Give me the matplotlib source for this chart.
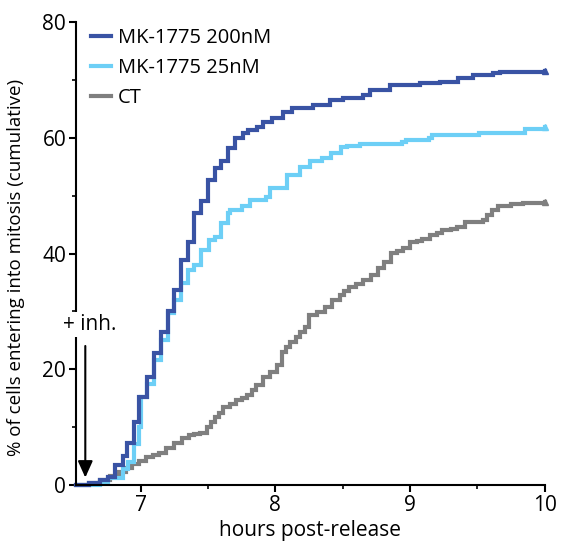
"""Cumulative mitotic entry after release, MK-1775 vs control"""

import numpy as np
import matplotlib

matplotlib.use("Agg")
import matplotlib.pyplot as plt
from matplotlib.ticker import MultipleLocator

plt.rcParams["font.family"] = ["Open Sans", "DejaVu Sans"]

# data (hours post-release, % cumulative)
hours_200 = [6.52, 6.62, 6.70, 6.76, 6.81, 6.87, 6.90, 6.95, 6.99, 7.05,
             7.10, 7.155, 7.20, 7.25, 7.30, 7.35, 7.40, 7.45, 7.50, 7.55,
             7.60, 7.646, 7.70, 7.757, 7.794, 7.861, 7.906, 7.973, 8.054,
             8.121, 8.277, 8.403, 8.50, 8.648, 8.70, 8.85, 9.07, 9.22,
             9.353, 9.465, 9.613, 9.665, 10.0]
pct_200 = [0, 0.4, 0.9, 1.4, 3.5, 5.0, 7.3, 10.9, 15.2, 18.7,
           22.8, 26.5, 30.0, 33.7, 38.9, 42.0, 47.0, 49.0, 52.7, 54.7,
           56.0, 58.2, 60.0, 60.8, 61.3, 61.8, 62.7, 63.4, 64.4,
           65.1, 65.6, 66.5, 66.8, 67.4, 68.2, 69.1, 69.4, 69.6,
           70.3, 70.8, 71.2, 71.3, 71.5]

hours_25 = [6.53, 6.70, 6.76, 6.87, 6.91, 6.95, 6.99, 7.00, 7.05, 7.10,
            7.155, 7.20, 7.25, 7.30, 7.35, 7.40, 7.45, 7.51, 7.55, 7.60,
            7.646, 7.66, 7.75, 7.81, 7.93, 7.96, 8.09, 8.18, 8.26, 8.35,
            8.41, 8.49, 8.53, 8.63, 8.94, 8.97, 9.14, 9.16, 9.51, 9.85, 10.0]
pct_25 = [0, 0.5, 1.2, 2.8, 4.0, 7.0, 10.0, 15.2, 17.4, 21.6,
          25.0, 29.7, 32.0, 34.9, 37.1, 38.0, 40.6, 42.3, 42.8, 45.2,
          47.0, 47.5, 48.2, 49.2, 49.7, 51.3, 53.5, 55.0, 56.0, 56.5,
          57.3, 58.4, 58.5, 58.9, 59.2, 59.6, 59.9, 60.4, 60.8, 61.5, 61.8]

hours_ct = [6.52, 6.62, 6.70, 6.77, 6.84, 6.89, 6.94, 6.99, 7.04, 7.09,
            7.14, 7.19, 7.25, 7.31, 7.36, 7.40, 7.44, 7.49, 7.52, 7.55,
            7.58, 7.61, 7.66, 7.71, 7.75, 7.79, 7.83, 7.86, 7.91, 7.96,
            8.01, 8.05, 8.08, 8.11, 8.15, 8.18, 8.22, 8.25, 8.31, 8.37,
            8.42, 8.48, 8.51, 8.55, 8.60, 8.65, 8.71, 8.76, 8.81, 8.86,
            8.90, 8.95, 9.00, 9.05, 9.09, 9.15, 9.20, 9.24, 9.30, 9.35,
            9.41, 9.54, 9.57, 9.61, 9.65, 9.75, 9.84, 10.0]
pct_ct = [0, 0.4, 0.8, 1.5, 2.2, 2.9, 3.6, 4.2, 4.8, 5.2,
          5.5, 6.4, 7.2, 8.1, 8.6, 8.8, 9.0, 10.0, 10.8, 11.7,
          12.5, 13.5, 14.0, 14.7, 15.0, 15.5, 16.4, 17.3, 18.7, 19.6,
          20.7, 23.0, 23.8, 24.7, 25.5, 26.4, 27.3, 29.4, 29.9, 30.7,
          32.0, 32.8, 33.5, 34.2, 34.8, 35.4, 36.3, 37.5, 38.5, 40.1,
          40.5, 40.9, 42.0, 42.2, 42.5, 43.2, 43.6, 44.0, 44.3, 44.6,
          45.4, 45.8, 46.6, 47.5, 48.2, 48.5, 48.7, 48.9]

series = [
    ("MK-1775 200nM", hours_200, pct_200, "#3953A4"),
    ("MK-1775 25nM", hours_25, pct_25, "#6DCFF6"),
    ("CT", hours_ct, pct_ct, "#7F7F7F"),
]

fig = plt.figure(figsize=(5.62, 5.44), dpi=100)
ax = fig.add_axes([0.135, 0.1085, 0.8345, 0.851])

# draw CT first so the blue curves sit on top
for label, x, y, color in reversed(series):
    ax.step(x, y, where="post", color=color, linewidth=3, label=label,
            solid_joinstyle="miter", clip_on=False)
    ax.plot(x[-1], y[-1], marker="^", markersize=4, color=color, clip_on=False)

ax.set_xlim(6.52, 10)
ax.set_ylim(0, 80)

# axes styling
for side in ["top", "right"]:
    ax.spines[side].set_visible(False)
for side in ["left", "bottom"]:
    ax.spines[side].set_linewidth(1.5)
ax.xaxis.set_major_locator(MultipleLocator(1))
ax.xaxis.set_minor_locator(MultipleLocator(0.5))
ax.yaxis.set_major_locator(MultipleLocator(20))
ax.yaxis.set_minor_locator(MultipleLocator(10))
ax.tick_params(which="major", direction="out", length=5, width=1.5,
               labelsize=15, pad=2)
ax.tick_params(which="minor", direction="out", length=3, width=1.2)

ax.set_xlabel("hours post-release", fontsize=15, labelpad=3)
ax.set_ylabel("% of cells entering into mitosis (cumulative)", fontsize=13.5)
ax.yaxis.set_label_coords(-0.108, 0.47)

# inhibitor addition arrow
ax.annotate("", xy=(6.59, 0.8), xytext=(6.59, 24.5),
            arrowprops=dict(arrowstyle="-|>,head_width=0.45,head_length=1.0",
                            color="black", linewidth=1.5),
            annotation_clip=False)
ax.text(6.62, 27.8, "+ inh.", fontsize=15, ha="center", va="center",
        clip_on=False, zorder=5,
        bbox={"facecolor": "white", "edgecolor": "none", "pad": 1.5})

# legend in original series order
handles, labels = ax.get_legend_handles_labels()
order = [labels.index(s[0]) for s in series]
ax.legend([handles[i] for i in order], [labels[i] for i in order],
          loc="upper left", bbox_to_anchor=(0.015, 1.005), frameon=False,
          borderaxespad=0, fontsize=14.5, handlelength=1.0,
          handletextpad=0.35, labelspacing=0.5)

fig.savefig("out.png", dpi=100)
